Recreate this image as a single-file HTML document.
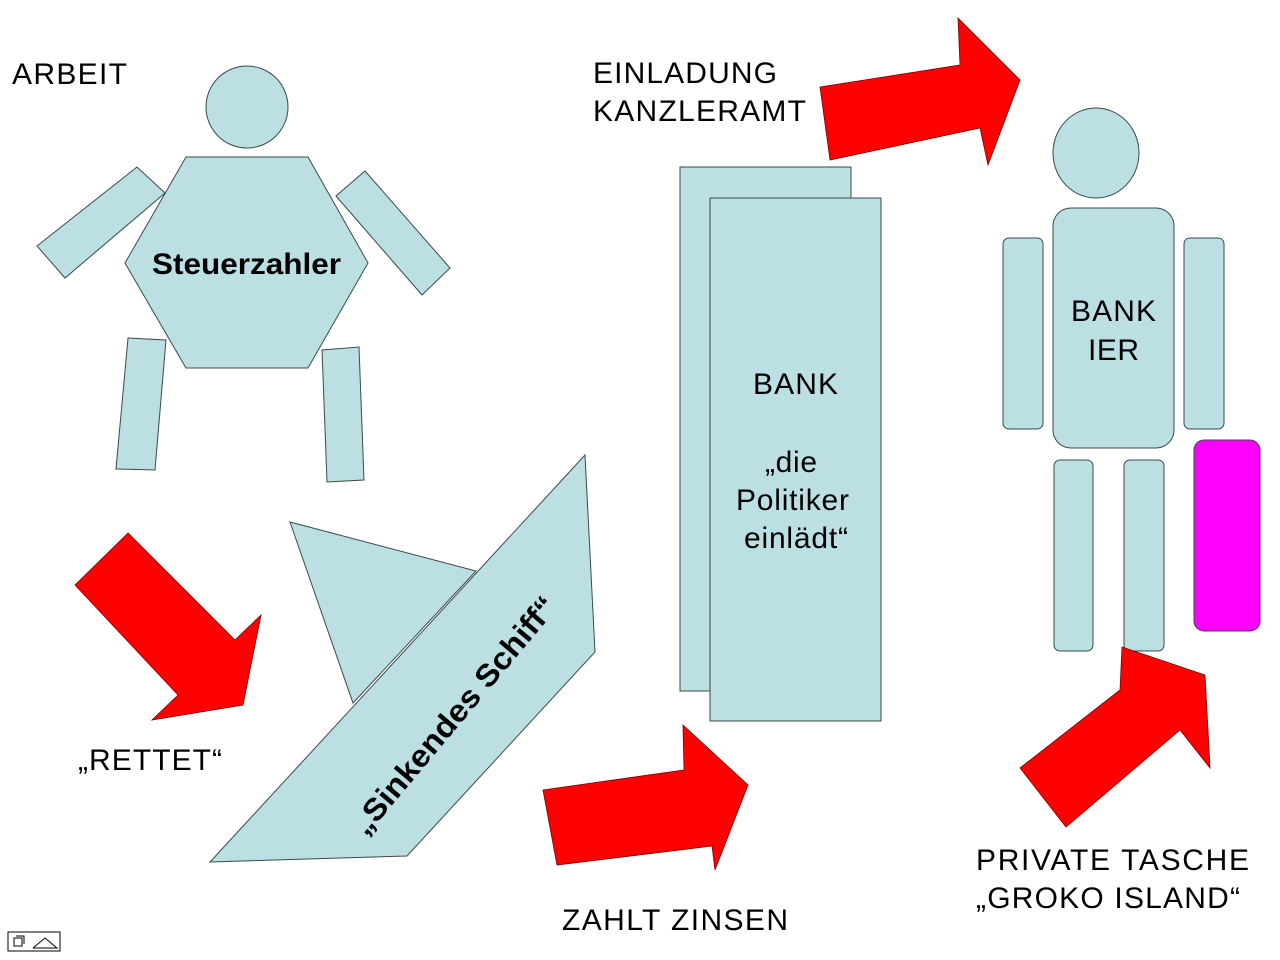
<!DOCTYPE html>
<html><head><meta charset="utf-8"><style>body{margin:0;background:#fff}svg{display:block}text{font-family:"Liberation Sans",sans-serif;fill:#000}</style></head>
<body>
<svg width="1280" height="960" viewBox="0 0 1280 960">
<g fill="#bbdfe3" stroke="#3a4a4a" stroke-width="1">
<circle cx="247" cy="107" r="41"/>
<polygon points="37,246 137,167 165,193 65,278"/>
<polygon points="336,196 365,171 450,268 422,295"/>
<polygon points="128,338 166,340 155,470 116,469"/>
<polygon points="322,350 359,347 364,480 327,482"/>
<polygon points="125,263 186,157 308,157 368,263 308,368 186,368"/>
<polygon points="290,522 476,571 353,703"/>
<polygon points="210,862 407,856 595,652 585,455"/>
<rect x="680" y="167" width="171" height="524"/>
<rect x="710" y="198" width="171" height="523"/>
<ellipse cx="1096" cy="153" rx="43" ry="45"/>
<rect x="1053" y="208" width="121" height="240" rx="18"/>
<rect x="1003" y="238" width="40" height="191" rx="6"/>
<rect x="1184" y="238" width="40" height="191" rx="6"/>
<rect x="1054" y="460" width="39" height="191" rx="6"/>
<rect x="1124" y="460" width="40" height="191" rx="6"/>
</g>
<rect x="1194" y="440" width="66" height="191" rx="10" fill="#ff00ff" stroke="#3a4a4a"/>
<g fill="#ff0000" stroke="#700" stroke-width="0.8">
<polygon points="75,585 128,533 235,640 261,615 243,705 152,720 178,695"/>
<polygon points="543,790 684,770 683,725 748,785 715,870 712,846 557,865"/>
<polygon points="820,87 960,65 958,18 1020,80 988,165 980,128 830,160"/>
<polygon points="1020,768 1120,690 1122,647 1205,675 1210,768 1180,730 1066,827"/>
</g>
<g font-size="30" lengthAdjust="spacingAndGlyphs">
<text x="12" y="84" textLength="115">ARBEIT</text>
<text x="593" y="83" textLength="184">EINLADUNG</text>
<text x="593" y="121" textLength="213">KANZLERAMT</text>
<text x="78" y="770" textLength="144">„RETTET“</text>
<text x="562" y="930" textLength="226">ZAHLT ZINSEN</text>
<text x="976" y="870" textLength="273">PRIVATE TASCHE</text>
<text x="976" y="908" textLength="264">„GROKO ISLAND“</text>
<text x="1071" y="321" textLength="85">BANK</text>
<text x="1088" y="360" textLength="51">IER</text>
<text x="753" y="394" textLength="85">BANK</text>
<text x="765" y="472" textLength="52">„die</text>
<text x="736" y="510" textLength="113">Politiker</text>
<text x="744" y="548" textLength="104">einlädt“</text>
</g>
<text x="152" y="274" font-size="30" font-weight="bold" textLength="189" lengthAdjust="spacingAndGlyphs">Steuerzahler</text>
<text x="0" y="0" font-size="31" font-weight="bold" text-anchor="middle" textLength="300" lengthAdjust="spacingAndGlyphs" transform="translate(462,722) rotate(-50)">„Sinkendes Schiff“</text>
<g stroke="#000" fill="none" stroke-width="1">
<rect x="8" y="932" width="52" height="19"/>
<polyline points="33,948 45,938 57,948 33,948"/>
<path d="M14,938 h8 v8 h-8 z M16,936 h8 v8" />
</g>
</svg>
</body></html>
